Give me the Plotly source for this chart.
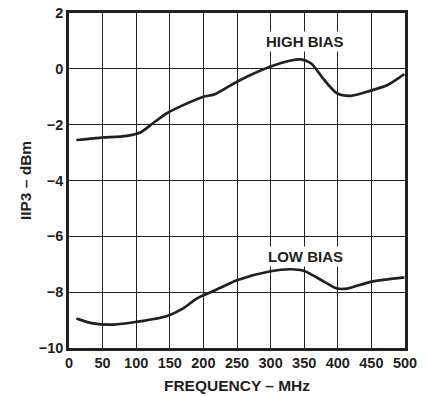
import plotly.graph_objects as go

freq_high = [11, 46, 86, 106, 125, 145, 170, 200, 216, 250, 300, 330, 347, 360, 380, 399, 419, 449, 474, 499]
iip3_high = [-2.55, -2.47, -2.40, -2.28, -1.95, -1.60, -1.30, -1.00, -0.92, -0.46, 0.08, 0.30, 0.33, 0.20, -0.40, -0.88, -0.97, -0.78, -0.58, -0.19]

freq_low = [11, 36, 66, 101, 145, 170, 190, 216, 250, 300, 330, 350, 380, 399, 414, 449, 499]
iip3_low = [-8.94, -9.12, -9.16, -9.06, -8.86, -8.58, -8.23, -7.95, -7.57, -7.25, -7.18, -7.24, -7.63, -7.87, -7.87, -7.63, -7.47]

x_ticks = [0, 50, 100, 150, 200, 250, 300, 350, 400, 450, 500]
y_ticks = [-10, -8, -6, -4, -2, 0, 2]
y_tick_text = ["\u221210", "\u22128", "\u22126", "\u22124", "\u22122", "0", "2"]

font_family = "Liberation Sans, Arial, sans-serif"
ink = "#231f20"

fig = go.Figure()
for fx, fy in [(freq_high, iip3_high), (freq_low, iip3_low)]:
    fig.add_trace(go.Scatter(x=fx, y=fy, mode="lines",
                             line=dict(color=ink, width=2.7, shape="spline", smoothing=0.8),
                             showlegend=False, hoverinfo="skip"))

for txt, ax, ay in [("HIGH BIAS", 351, 0.97), ("LOW BIAS", 352, -6.73)]:
    fig.add_annotation(x=ax, y=ay, text="<b>%s</b>" % txt, showarrow=False,
                       font=dict(family=font_family, size=15, color=ink),
                       bgcolor="white", borderpad=1)

fig.update_xaxes(range=[0, 500], tickvals=x_ticks, ticktext=["<b>%d</b>" % v for v in x_ticks],
                 ticks="", showgrid=True, automargin=False,
                 gridcolor=ink, gridwidth=1.3, zeroline=False,
                 showline=True, linecolor=ink, linewidth=2.5, mirror=True,
                 tickfont=dict(family=font_family, size=14.5, color=ink),
                 title=dict(text="<b>FREQUENCY \u2013 MHz</b>", standoff=10,
                            font=dict(family=font_family, size=15.5, color=ink)))
fig.update_yaxes(range=[-10, 2], tickvals=y_ticks, ticktext=["<b>%s</b>" % t for t in y_tick_text],
                 ticks="", showgrid=True, automargin=False,
                 gridcolor=ink, gridwidth=1.3, zeroline=False,
                 showline=True, linecolor=ink, linewidth=2.5, mirror=True,
                 tickfont=dict(family=font_family, size=14.5, color=ink),
                 title=dict(text="<b>IIP3 \u2013 dBm</b>", standoff=4,
                            font=dict(family=font_family, size=15.5, color=ink)))

fig.update_layout(width=428, height=396, margin=dict(l=69, r=23, t=13, b=48),
                  plot_bgcolor="white", paper_bgcolor="white")

fig.write_html("out.html", config={"displayModeBar": False},
               post_script="document.body.style.margin='0';")
